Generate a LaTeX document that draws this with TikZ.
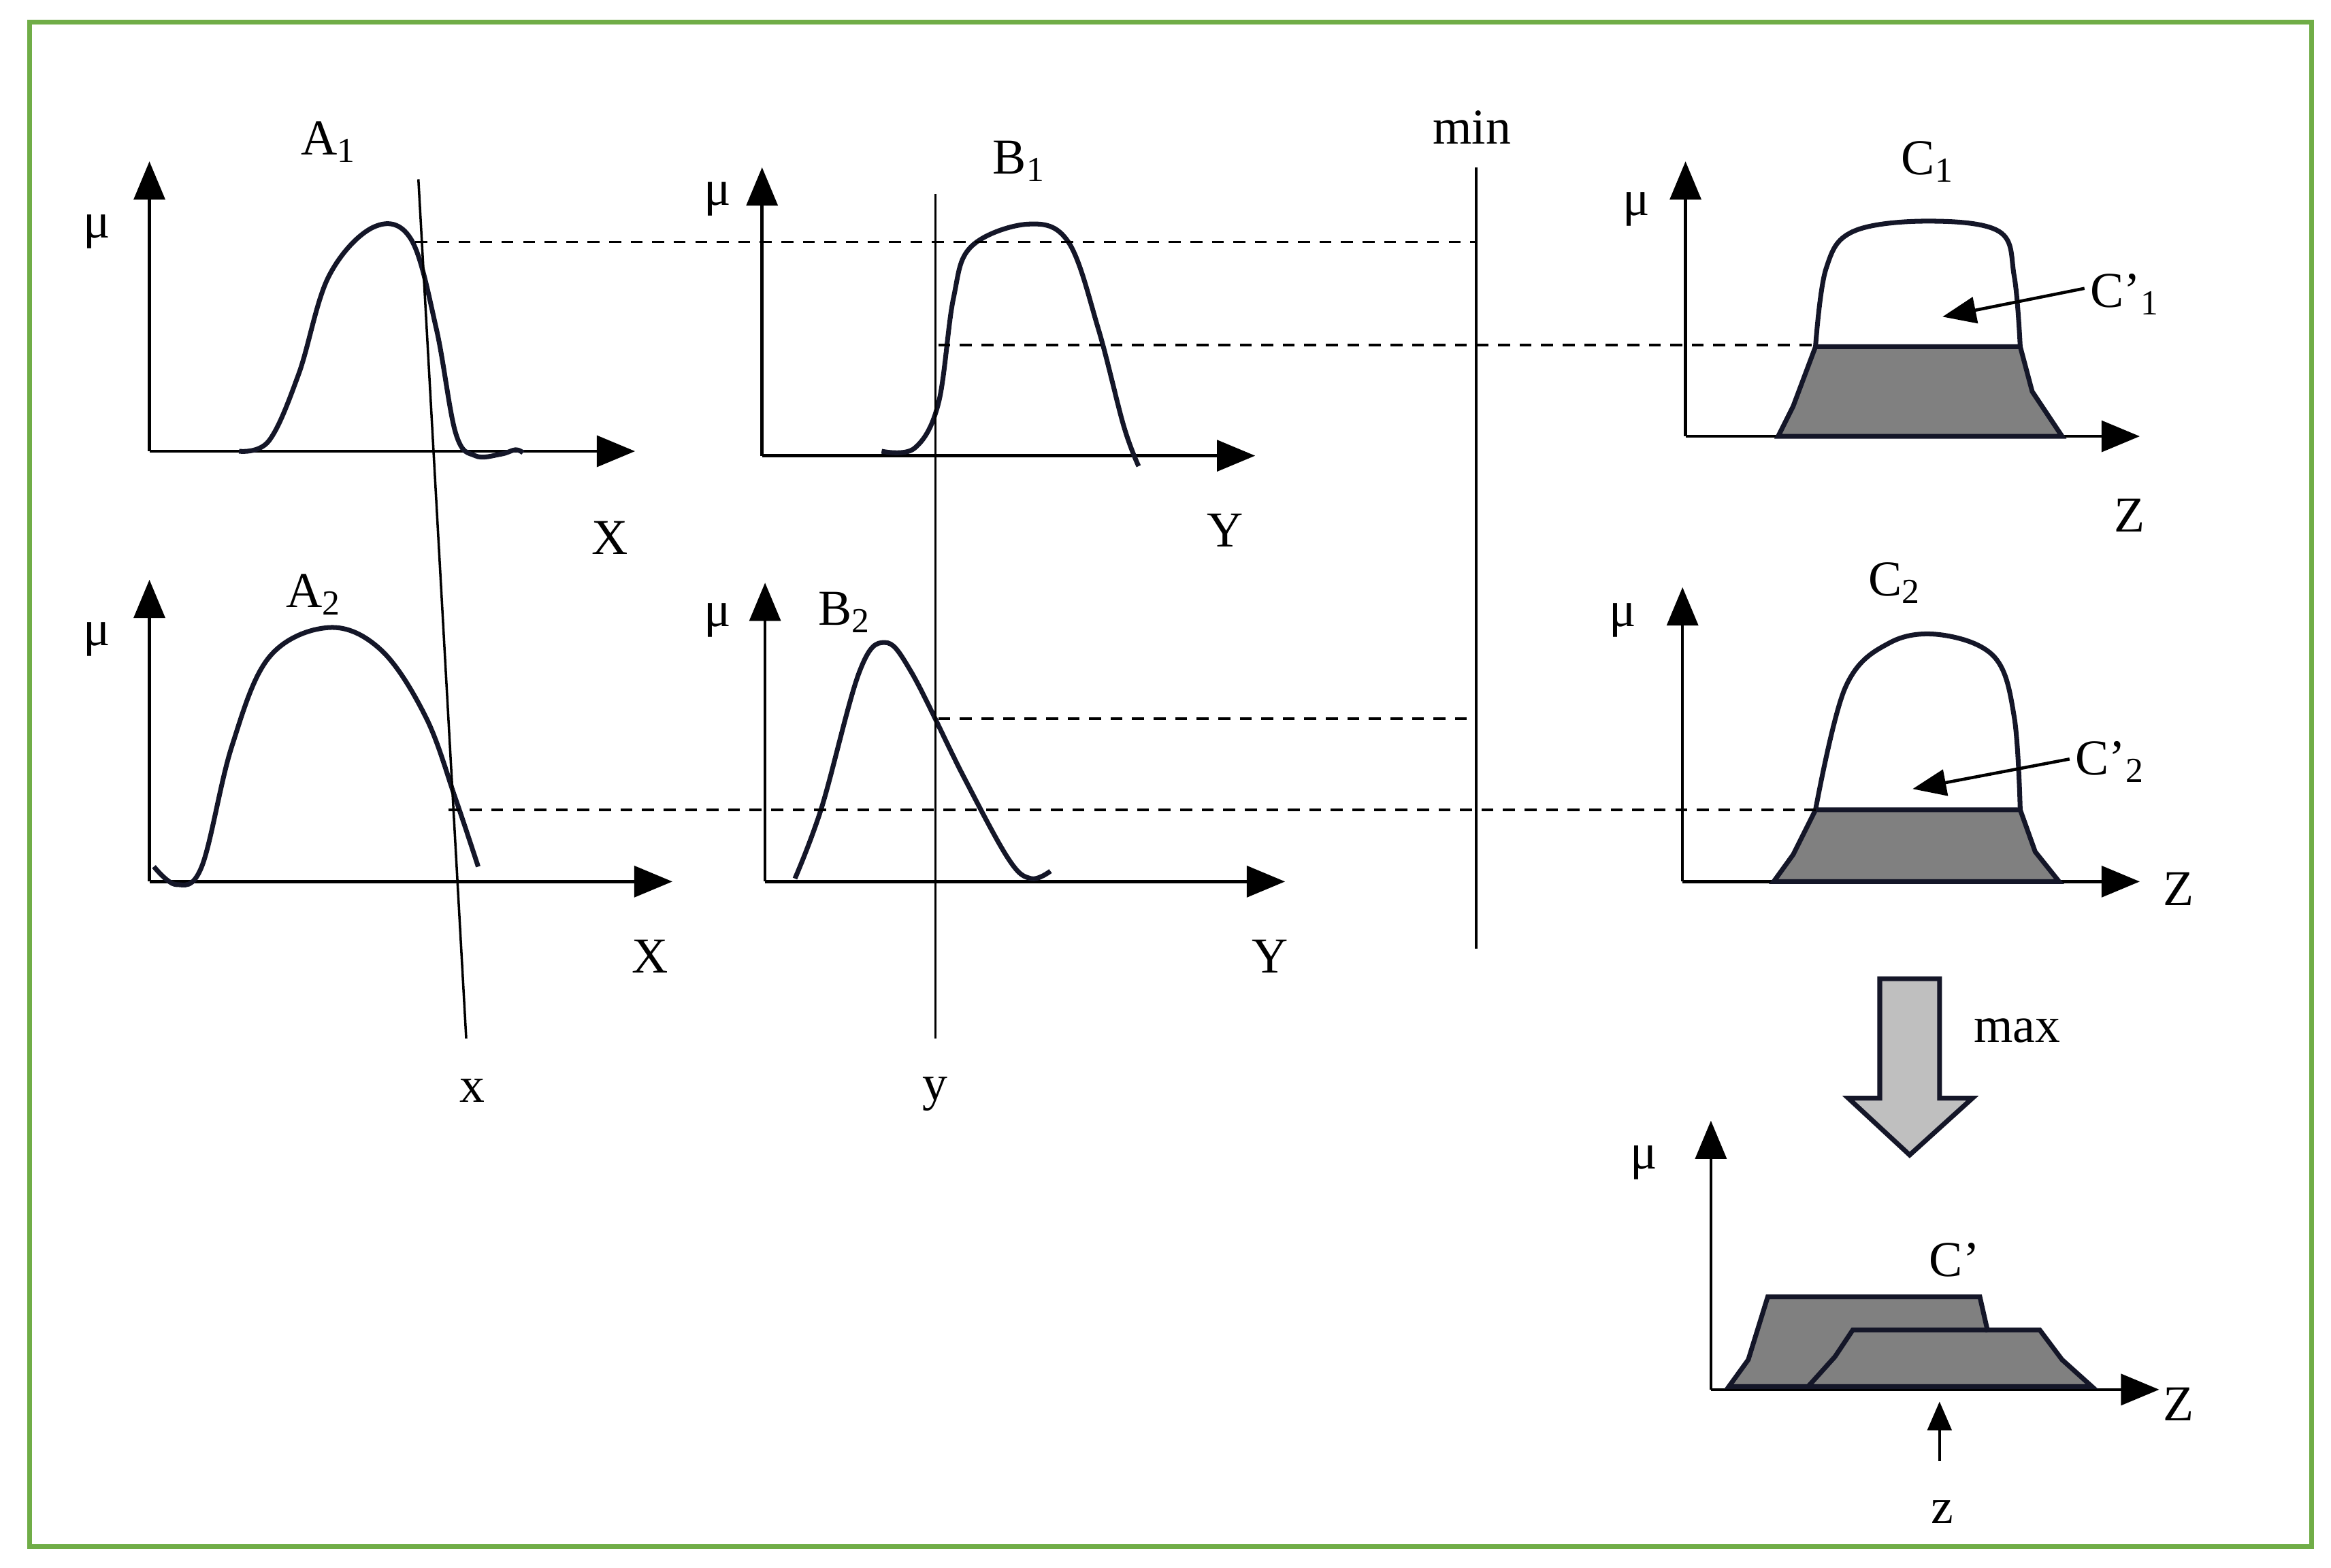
\documentclass[tikz,border=0pt]{standalone}
\usepackage{fontspec}
\setmainfont{Liberation Serif}
\usetikzlibrary{arrows.meta}
\definecolor{frame}{RGB}{112,173,71}
\definecolor{ink}{RGB}{20,22,40}
\begin{document}
\begin{tikzpicture}[x=0.02196cm,y=-0.02196cm,
 ax/.style={line width=1.3pt,-{Triangle[length=16pt,width=13pt]}},
 crv/.style={line width=2pt,ink},
 thin/.style={line width=1pt},
 dsh/.style={line width=1pt,dash pattern=on 5pt off 4pt},
 fil/.style={line width=2pt,ink,fill=black!50},
 lab/.style={font=\fontsize{21}{24}\selectfont,inner sep=0pt}]
\useasboundingbox (0,0) rectangle (1560,1049);
\draw[frame,line width=2pt] (20,15) rectangle (1547,1035);
% A1
\draw[ax] (100,302) -- (100,108); \draw[ax] (100,302) -- (425,302);
\node[lab] (m1) at (65,155) {μ}; \node[lab] (a1) at (220,95) {A\textsubscript{1}}; \node[lab] (x1) at (408,360) {X};
\draw[crv] plot[smooth,tension=0.6] coordinates {(160,302)(180,295)(200,250)(220,185)(250,152)(275,160)(292,220)(305,290)(318,305)(335,304)(345,301)(350,303)};
% B1
\draw[ax] (510,305) -- (510,112); \draw[ax] (510,305) -- (840,305);
\node[lab] (m2) at (480,133) {μ}; \node[lab] (b1) at (682,108) {B\textsubscript{1}}; \node[lab] (y1) at (820,355) {Y};
\draw[crv] plot[smooth,tension=0.6] coordinates {(590,302)(612,300)(628,270)(638,200)(650,165)(688,150)(715,162)(735,220)(752,285)(762,312)};
% min
\draw[thin] (988,112) -- (988,635); \node[lab] (mn) at (985,85) {min};
% C1
\draw[ax] (1128,292) -- (1128,108); \draw[ax] (1128,292) -- (1432,292);
\node[lab] (m3) at (1095,140) {μ}; \node[lab] (c1) at (1290,108) {C\textsubscript{1}}; \node[lab] (z1) at (1425,345) {Z};
\draw[crv] plot[smooth,tension=0.6] coordinates {(1215,232)(1222,180)(1240,155)(1290,148)(1338,155)(1348,185)(1352,232)};
\draw[fil] (1190,292) -- (1200,272) -- (1215,232) -- (1352,232) -- (1360,262) -- (1380,292) -- cycle;
\node[lab] (cc1) at (1422,197) {C’\textsubscript{1}};
\draw[line width=1.3pt,-{Triangle[length=14pt,width=11pt]}] (1395,193) -- (1300,212);
\draw[dsh] (278,162) -- (988,162);
\draw[dsh] (628,231) -- (1215,231);
% A2
\draw[ax] (100,590) -- (100,388); \draw[ax] (100,590) -- (450,590);
\node[lab] (m4) at (65,428) {μ}; \node[lab] (a2) at (210,398) {A\textsubscript{2}}; \node[lab] (x2) at (435,640) {X};
\draw[crv] plot[smooth,tension=0.6] coordinates {(103,580)(118,592)(135,580)(155,500)(180,440)(220,420)(255,435)(285,480)(305,535)(320,580)};
% B2
\draw[ax] (512,590) -- (512,390); \draw[ax] (512,590) -- (860,590);
\node[lab] (m5) at (480,415) {μ}; \node[lab] (b2) at (565,410) {B\textsubscript{2}}; \node[lab] (y2) at (850,640) {Y};
\draw[crv] plot[smooth,tension=0.6] coordinates {(532,588)(550,540)(575,450)(592,430)(610,450)(645,520)(675,575)(690,588)(703,583)};
% C2
\draw[ax] (1126,590) -- (1126,393); \draw[ax] (1126,590) -- (1432,590);
\node[lab] (m6) at (1086,415) {μ}; \node[lab] (c2) at (1268,390) {C\textsubscript{2}}; \node[lab] (z2) at (1458,595) {Z};
\draw[crv] plot[smooth,tension=0.6] coordinates {(1215,542)(1235,460)(1265,430)(1300,425)(1335,440)(1348,480)(1352,542)};
\draw[fil] (1187,590) -- (1200,572) -- (1215,542) -- (1352,542) -- (1362,570) -- (1378,590) -- cycle;
\node[lab] (cc2) at (1412,510) {C’\textsubscript{2}};
\draw[line width=1.3pt,-{Triangle[length=14pt,width=11pt]}] (1385,508) -- (1280,528);
\draw[dsh] (628,481) -- (988,481);
\draw[dsh] (300,542) -- (1215,542);
% x, y lines
\draw[thin] (280,120) -- (312,695); \node[lab] (xl) at (316,730) {x};
\draw[thin] (626,130) -- (626,695); \node[lab] (yl) at (626,732) {y};
% max arrow
\draw[line width=2pt,ink,fill=black!25] (1258,655) -- (1298,655) -- (1298,735) -- (1320,735) -- (1278,773) -- (1237,735) -- (1258,735) -- cycle;
\node[lab] (mx) at (1350,690) {max};
% result
\draw[ax] (1145,930) -- (1145,750); \draw[ax] (1145,930) -- (1445,930);
\node[lab] (m7) at (1100,778) {μ}; \node[lab] (cp) at (1308,843) {C’}; \node[lab] (z3) at (1458,940) {Z};
\draw[fil] (1157,928) -- (1170,910) -- (1183,868) -- (1325,868) -- (1330,890) -- (1365,890) -- (1380,910) -- (1400,928) -- cycle;
\draw[line width=2pt,ink] (1210,928) -- (1228,908) -- (1240,890) -- (1330,890);
\node[lab] (zl) at (1300,1012) {z};
\draw[line width=1.3pt,-{Triangle[length=12pt,width=10pt]}] (1298,978) -- (1298,938);
\end{tikzpicture}
\end{document}
